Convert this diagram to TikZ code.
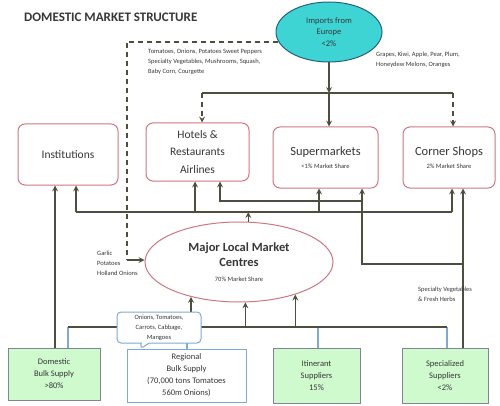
\documentclass[tikz,border=0pt]{standalone}
\usepackage{fontspec}
\setmainfont{Carlito}
\usepackage{tikz}
\usetikzlibrary{shapes.geometric,shapes.callouts}
\definecolor{linkc}{RGB}{78,78,62}
\definecolor{boxred}{RGB}{205,120,130}
\definecolor{txtc}{RGB}{55,55,55}
\definecolor{supgreen}{RGB}{206,250,206}
\definecolor{supgray}{RGB}{130,132,150}
\definecolor{stubblue}{RGB}{125,170,215}
\definecolor{impcyan}{RGB}{62,212,212}
\definecolor{impedge}{RGB}{40,95,125}
\newcommand\titlesize{\fontsize{13}{15}\selectfont}
\newcommand\notesize{\fontsize{6.5}{10}\selectfont}
\newcommand\boxsize{\fontsize{11.5}{17.5}\selectfont}
\newcommand\bigsize{\fontsize{12.5}{13.5}\selectfont}
\newcommand\supsize{\fontsize{8.5}{12}\selectfont}

\begin{document}
\begin{tikzpicture}[x=1pt,y=-1pt,
    retail/.style={draw=boxred,line width=1pt,rounded corners=7pt,fill=white,align=center,text=txtc,inner sep=1pt},
    supply/.style={draw=supgray,line width=1pt,fill=supgreen,align=center,text=txtc,inner sep=1pt,font=\supsize},
    link/.style={draw=linkc,line width=1.6pt},
    arr/.style={link,-stealth},
    dashlink/.style={link,dash pattern=on 5pt off 4pt},
    stub/.style={draw=stubblue,line width=1.3pt},
    note/.style={text=txtc,align=left,font=\notesize,inner sep=0pt}]

    \useasboundingbox (0,0) rectangle (500,406);

    % title
    \node[note,font=\bfseries\titlesize,anchor=west] (title) at (24,17) {DOMESTIC MARKET STRUCTURE};

    % imports
    \node[ellipse,draw=impedge,line width=1pt,fill=impcyan,minimum width=106pt,minimum height=60pt,align=center,text=txtc,font=\fontsize{8.5}{11.5}\selectfont] (imp) at (329,32) {Imports from\\Europe\\<2\%};

    % retailers
    \node[retail,minimum width=100pt,minimum height=61pt,font=\boxsize] (inst) at (68,154.5) {Institutions};
    \node[retail,minimum width=103pt,minimum height=58pt,font=\boxsize] (hot) at (197.5,152) {Hotels \&\\Restaurants\\Airlines};
    \node[retail,minimum width=105pt,minimum height=61pt,font=\bigsize] (sup) at (325.5,157.5) {Supermarkets\\{\notesize <1\% Market Share}};
    \node[retail,minimum width=92pt,minimum height=61pt,font=\bigsize] (cor) at (449,157.5) {Corner Shops\\{\notesize 2\% Market Share}};

    % market centres
    \node[ellipse,draw=boxred,line width=1pt,fill=white,minimum width=188pt,minimum height=80pt,align=center,text=txtc,font=\fontsize{12.5}{15}\selectfont] (mlm) at (239,262) {\textbf{Major Local Market}\\\textbf{Centres}\\{\notesize 70\% Market Share}};

    % suppliers
    \node[supply,minimum width=92pt,minimum height=52pt] (dom) at (54,374) {Domestic\\Bulk Supply\\>80\%};
    \node[supply,draw=stubblue,fill=white,minimum width=119pt,minimum height=53pt] (reg) at (186.5,375.5) {Regional\\Bulk Supply\\(70,000 tons Tomatoes\\560m Onions)};
    \node[supply,minimum width=87pt,minimum height=55pt] (itin) at (316.5,375.5) {Itinerant\\Suppliers\\15\%};
    \node[supply,minimum width=86pt,minimum height=55pt] (spec) at (445,375.5) {Specialized\\Suppliers\\<2\%};

    % produce notes
    \node[note,anchor=north west] (veg) at (148,49) {Tomatoes, Onions, Potatoes Sweet Peppers\\Specialty Vegetables, Mushrooms, Squash,\\Baby Corn, Courgette};
    \node[note,anchor=north west] (fruit) at (376,52) {Grapes, Kiwi, Apple, Pear, Plum,\\Honeydew Melons, Oranges};
    \node[note,anchor=north west] (garlic) at (97,251) {Garlic\\Potatoes\\Holland Onions};

    % bus points
    \coordinate (tbL) at (202,93);
    \coordinate (tbM) at (329,93);
    \coordinate (tbR) at (453,93);
    \coordinate (dl) at (127,260);
    \coordinate (dx) at (55,0);
    \coordinate (mbL) at (76,212);
    \coordinate (mbR) at (452,212);
    \coordinate (sp1) at (463,264);
    \coordinate (sp2) at (362,264);
    \coordinate (sp3) at (362,201);
    \coordinate (sp4) at (220,201);
    \coordinate (bbL) at (68,327);
    \coordinate (bbR) at (447,327);

    % imports to retailers
    \draw[link] (tbL) -- (tbR);
    \draw[arr] (imp.south) -- (tbM);
    \draw[arr] (tbM) -- (sup.north -| tbM);
    \draw[dashlink,-stealth] (tbL) -- (hot.north -| tbL);
    \draw[dashlink,-stealth] (tbR) -- (cor.north -| tbR);

    % imports to market centres
    \draw[dashlink] (imp.191) -| (dl);
    \draw[arr] (dl) -- (mlm.west |- dl);

    % market centres to retailers
    \draw[link] (mbL) -- (mbR);
    \draw[arr] (mlm.77) -- (mlm.77 |- mbL);
    \foreach \n/\x in {inst/76,hot/195,sup/319,cor/452}
        \draw[arr] (\x,212) -- (\x,0 |- \n.south);

    % domestic straight to institutions
    \draw[arr] (dom.north -| dx) -- (inst.south -| dx);

    % specialized suppliers
    \draw[arr] (spec.north -| sp1) -- (cor.south -| sp1);
    \draw[link] (sp1) -- (sp2) -- (sp3);
    \draw[arr] (sp2) -- (sup.south -| sp2);
    \draw[arr] (sp3) -| (hot.south -| sp4);
    \node[note,anchor=north west] (herbs) at (418,287) {Specialty Vegetables\\\& Fresh Herbs};

    % suppliers to market centres
    \foreach \n/\x in {dom/68,reg/187,itin/318,spec/447}
        \draw[stub] (\x,327) -- (\x,0 |- \n.north);
    \draw[link] (bbL) -- (bbR);
    \foreach \a in {216,279,330}
        \draw[arr] (mlm.\a |- bbL) -- (mlm.\a);

    % callout over regional supply
    \node[rectangle callout,draw=stubblue,line width=1pt,rounded corners=4pt,fill=white,minimum width=84pt,minimum height=31pt,align=center,text=txtc,font=\notesize,inner sep=1pt,callout pointer width=8pt,callout absolute pointer={(140,349)}] (mix) at (159,327.5) {Onions, Tomatoes,\\Carrots, Cabbage,\\Mangoes};

\end{tikzpicture}
\end{document}
